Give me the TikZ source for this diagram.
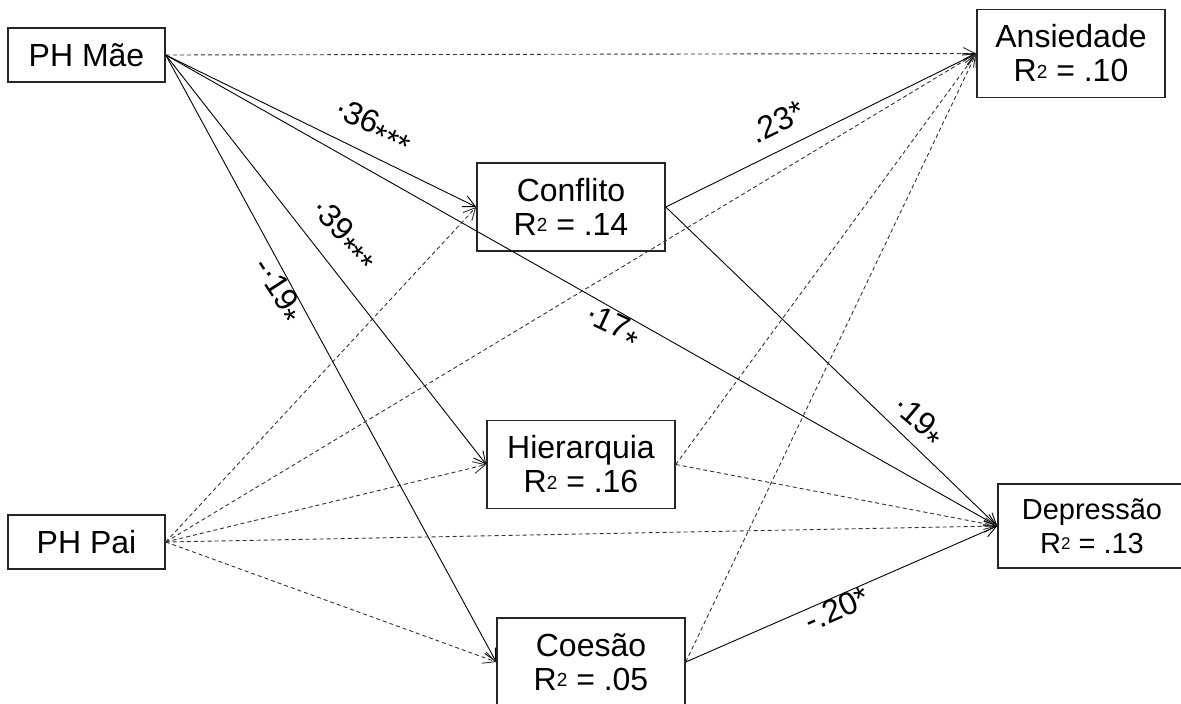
\documentclass[tikz,border=0pt]{standalone}
\usepackage{fontspec}
\setmainfont{Liberation Sans}
\usetikzlibrary{arrows.meta}
\newcommand\rsqr[1]{R\raisebox{3.6pt}{\fontsize{19}{19}\selectfont 2} = #1}
\newcommand\rsqrs[1]{R\raisebox{3.3pt}{\fontsize{17}{17}\selectfont 2} = #1}
\newcommand\ldot{\raisebox{0.25em}{.}}
\newcommand\lstar{\raisebox{-0.32em}{*}}
\begin{document}
\begin{tikzpicture}[x=1pt,y=-1pt,
  box/.style={draw=black!85, line width=1.5pt, align=center, inner sep=0pt,
              font=\fontsize{32}{34}\selectfont},
  pbox/.style={box, minimum width=157pt, minimum height=54pt},
  vbox/.style={box, minimum width=188pt, minimum height=88pt},
  sol/.style={line width=0.9pt, -{Straight Barb[length=12pt,width=12pt]}},
  das/.style={sol, draw=black!80, dash pattern=on 4pt off 3pt},
  lab/.style={font=\fontsize{32}{34}\selectfont, inner sep=0pt}]
\useasboundingbox (0,0) rectangle (1181,704);

\node[pbox] (mae) at (86.5,55) {PH Mãe};
\node[pbox] (pai) at (86.5,542) {PH Pai};
\node[vbox] (con) at (571,207) {Conflito\\ \rsqr{.14}};
\node[vbox] (hie) at (581,464.5) {Hierarquia\\ \rsqr{.16}};
\node[vbox] (coe) at (591,662) {Coesão\\ \rsqr{.05}};
\node[vbox] (anx) at (1071,53.5) {Ansiedade\\ \rsqr{.10}};
\node[vbox, minimum height=84pt, font=\fontsize{29}{34}\selectfont] (dep) at (1092,526) {Depressão\\ \rsqrs{.13}};

\draw[das] (mae.east) -- (anx.west);
\draw[sol] (mae.east) -- (con.west);
\draw[sol] (mae.east) -- (dep.west);
\draw[sol] (mae.east) -- (hie.west);
\draw[sol] (mae.east) -- (coe.west);

\draw[das] (pai.east) -- (con.west);
\draw[das] (pai.east) -- (anx.west);
\draw[das] (pai.east) -- (hie.west);
\draw[das] (pai.east) -- (dep.west);
\draw[das] (pai.east) -- (coe.west);

\draw[sol] (con.east) -- (anx.west);
\draw[sol] (con.east) -- (dep.west);
\draw[das] (hie.east) -- (anx.west);
\draw[das] (hie.east) -- (dep.west);
\draw[das] (coe.east) -- (anx.west);
\draw[sol] (coe.east) -- (dep.west);

\node[lab, rotate=-23] (l36) at (373,127) {\ldot 36\lstar\lstar\lstar};
\node[lab, rotate=-45] (l39) at (343,236) {\ldot 39\lstar\lstar\lstar};
\node[lab, rotate=-57] (l19a) at (276,292) {-\ldot 19\lstar};
\node[lab, rotate=-25] (l17) at (612,328) {\ldot 17\lstar};
\node[lab, rotate=26] (l23) at (777,122) {.23*};
\node[lab, rotate=-40] (l19b) at (917,423) {\ldot 19\lstar};
\node[lab, rotate=23.6] (l20) at (837,609) {-.20*};
\end{tikzpicture}
\end{document}
